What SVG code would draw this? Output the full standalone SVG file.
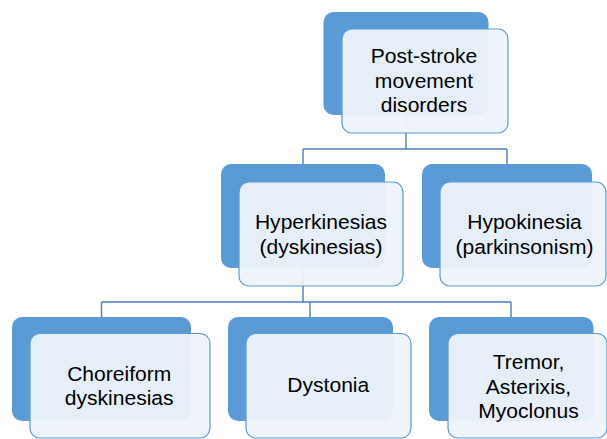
<svg xmlns="http://www.w3.org/2000/svg" width="607" height="439" viewBox="0 0 607 439">
<style>
.back{fill:#5B9BD5;}
.front{fill:#EEF3FA;fill-opacity:0.95;stroke:#5B9BD5;stroke-width:1.2;}
.conn{fill:none;stroke:#4A7EBB;stroke-width:1.4;}
text{font-family:"Liberation Sans",Arial,sans-serif;font-size:19.5px;fill:#000;text-anchor:middle;}
</style>
<rect width="607" height="439" fill="#FFFFFF"/>
<g id="connectors">
<path class="conn" d="M406 115 V149 M303 149 H507 M303 149 V164 M507 149 V164"/>
<path class="conn" d="M303 268 V302 M101.5 302 H511 M101.5 302 V317 M310 302 V317 M511 302 V317"/>
</g>
<g id="node-post-stroke">
<rect class="back" x="323.5" y="12" width="165" height="103" rx="10"/>
<rect class="front" x="342" y="29" width="166" height="104" rx="10"/>
<g transform="translate(424,0) scale(1.08,1)">
<text x="0" y="63.5">Post-stroke</text>
<text x="0" y="88">movement</text>
<text x="0" y="112">disorders</text>
</g>
</g>
<g id="node-hyperkinesias">
<rect class="back" x="221" y="164" width="164" height="104" rx="10"/>
<rect class="front" x="239" y="182" width="164" height="104" rx="10"/>
<g transform="translate(321,0) scale(1.08,1)">
<text x="0" y="229.3">Hyperkinesias</text>
<text x="0" y="254.5">(dyskinesias)</text>
</g>
</g>
<g id="node-hypokinesia">
<rect class="back" x="422" y="164" width="170" height="104" rx="10"/>
<rect class="front" x="440" y="182" width="166" height="104" rx="10"/>
<g transform="translate(524.5,0) scale(1.08,1)">
<text x="0" y="229.3">Hypokinesia</text>
<text x="0" y="254.5">(parkinsonism)</text>
</g>
</g>
<g id="node-choreiform">
<rect class="back" x="12" y="317" width="179" height="104" rx="10"/>
<rect class="front" x="30" y="333.5" width="180" height="104.5" rx="10"/>
<g transform="translate(119.2,0) scale(1.08,1)">
<text x="0" y="381">Choreiform</text>
<text x="0" y="405.5">dyskinesias</text>
</g>
</g>
<g id="node-dystonia">
<rect class="back" x="228" y="317" width="165" height="104" rx="10"/>
<rect class="front" x="246" y="333.5" width="165" height="104.5" rx="10"/>
<g transform="translate(328.3,0) scale(1.08,1)">
<text x="0" y="392.5">Dystonia</text>
</g>
</g>
<g id="node-tremor">
<rect class="back" x="429" y="317" width="164.5" height="104" rx="10"/>
<rect class="front" x="448" y="333.5" width="159" height="104.5" rx="10"/>
<g transform="translate(528.5,0) scale(1.08,1)">
<text x="0" y="369.3">Tremor,</text>
<text x="0" y="394">Asterixis,</text>
<text x="0" y="418.5">Myoclonus</text>
</g>
</g>
</svg>
